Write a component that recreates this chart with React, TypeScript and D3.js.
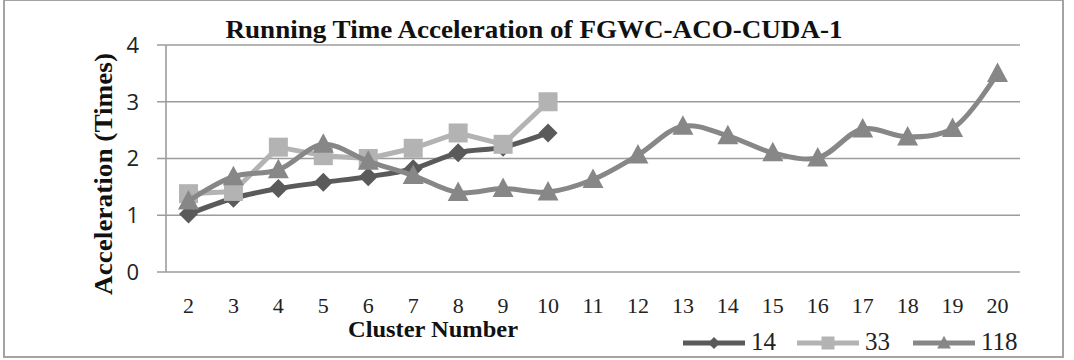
import React, { useRef, useEffect } from 'react';
import * as d3 from 'd3';

// chart values
const clusters = ['2', '3', '4', '5', '6', '7', '8', '9', '10', '11', '12', '13', '14', '15', '16', '17', '18', '19', '20'];
const yTicks = [0, 1, 2, 3, 4];
const accel14 = [1.02, 1.3, 1.47, 1.58, 1.68, 1.82, 2.1, 2.2, 2.45];
const accel33 = [1.38, 1.42, 2.2, 2.05, 2.0, 2.18, 2.45, 2.25, 3.0];
const accel118 = [1.25, 1.68, 1.8, 2.25, 1.95, 1.7, 1.4, 1.47, 1.41, 1.63, 2.06, 2.57, 2.4, 2.1, 2.01, 2.52, 2.38, 2.53, 3.5];
const seriesNames = ['14', '33', '118'];

const SERIF = '"Liberation Serif", "Times New Roman", serif';
const SANS = '"Open Sans", sans-serif';

const W = 1074;
const H = 360;

const markerPath = (kind, s) => {
  if (kind === 'diamond') return `M0,${-s}L${s},0L0,${s}L${-s},0Z`;
  if (kind === 'square') return `M${-s},${-s}H${s}V${s}H${-s}Z`;
  return `M0,${-s * 1.1}L${s * 1.05},${s * 0.85}H${-s * 1.05}Z`;
};

const AccelChart = () => {
  const svgRef = useRef(null);

  useEffect(() => {
    const svg = d3.select(svgRef.current);
    svg.selectAll('*').remove();

    const left = 166, right = 1020, top = 45, bottom = 272;

    const x = d3.scalePoint().domain(clusters).range([left, right]).padding(0.5);
    const y = d3.scaleLinear().domain([0, 4]).range([bottom, top]);

    // outer frame
    svg.append('rect')
      .attr('x', 4).attr('y', 0).attr('width', 1059).attr('height', 357)
      .attr('fill', 'white').attr('stroke', '#a3a3a3').attr('stroke-width', 2);

    // gridlines + y ticks
    const grid = svg.append('g');
    yTicks.forEach(t => {
      grid.append('line')
        .attr('x1', left - 9).attr('x2', right)
        .attr('y1', y(t)).attr('y2', y(t))
        .attr('stroke', '#9c9c9c').attr('stroke-width', 1.6);
      grid.append('text')
        .attr('x', 139).attr('y', y(t)).attr('dy', '0.36em')
        .attr('text-anchor', 'end')
        .style('font-family', SANS).style('font-size', '22px').attr('fill', '#222')
        .text(t);
    });
    grid.append('line')
      .attr('x1', left).attr('x2', left).attr('y1', top).attr('y2', bottom)
      .attr('stroke', '#9c9c9c').attr('stroke-width', 1.6);

    // x labels
    svg.append('g').selectAll('text').data(clusters).join('text')
      .attr('x', d => x(d)).attr('y', 313)
      .attr('text-anchor', 'middle')
      .style('font-family', SERIF).style('font-size', '22px').attr('fill', '#222')
      .text(d => d);

    const series = [
      { name: seriesNames[0], vals: accel14, color: '#5a5a5a', kind: 'diamond', size: 9.5, curve: d3.curveCatmullRom },
      { name: seriesNames[1], vals: accel33, color: '#b3b3b3', kind: 'square', size: 9.5, curve: d3.curveLinear },
      { name: seriesNames[2], vals: accel118, color: '#878787', kind: 'triangle', size: 10, curve: d3.curveCatmullRom },
    ];

    series.forEach(s => {
      const pts = s.vals.map((v, i) => [x(clusters[i]), y(v)]);
      const line = d3.line().curve(s.curve);
      svg.append('path')
        .attr('d', line(pts))
        .attr('fill', 'none').attr('stroke', s.color)
        .attr('stroke-width', 5).attr('stroke-linejoin', 'round');
      svg.append('g').selectAll('path').data(pts).join('path')
        .attr('transform', d => `translate(${d[0]},${d[1]})`)
        .attr('d', markerPath(s.kind, s.size))
        .attr('fill', s.color);
    });

    // titles
    svg.append('text')
      .attr('x', 534).attr('y', 38).attr('text-anchor', 'middle')
      .attr('textLength', 617).attr('lengthAdjust', 'spacingAndGlyphs')
      .style('font-family', SERIF).style('font-size', '26px').style('font-weight', 'bold').attr('fill', '#111')
      .text('Running Time Acceleration of FGWC-ACO-CUDA-1');

    svg.append('text')
      .attr('transform', 'translate(112,174) rotate(-90)')
      .attr('text-anchor', 'middle')
      .attr('textLength', 242).attr('lengthAdjust', 'spacingAndGlyphs')
      .style('font-family', SERIF).style('font-size', '26px').style('font-weight', 'bold').attr('fill', '#111')
      .text('Acceleration (Times)');

    svg.append('text')
      .attr('x', 433).attr('y', 337).attr('text-anchor', 'middle')
      .attr('textLength', 170).attr('lengthAdjust', 'spacingAndGlyphs')
      .style('font-family', SERIF).style('font-size', '23px').style('font-weight', 'bold').attr('fill', '#111')
      .text('Cluster Number');

    // legend
    const legendX = [683, 797, 913];
    series.forEach((s, i) => {
      const g = svg.append('g').attr('transform', `translate(${legendX[i]},343)`);
      g.append('line').attr('x1', 0).attr('x2', 62).attr('y1', 0).attr('y2', 0)
        .attr('stroke', s.color).attr('stroke-width', 5);
      g.append('path').attr('transform', 'translate(31,0)')
        .attr('d', markerPath(s.kind, s.kind === 'diamond' ? 6 : 6.5))
        .attr('fill', s.color);
      g.append('text').attr('x', 68).attr('y', 7)
        .style('font-family', SERIF).style('font-size', '25px').attr('fill', '#222')
        .text(s.name);
    });
  }, []);

  return <svg ref={svgRef} width={W} height={H} style={{ position: 'absolute', left: 0, top: 0 }}></svg>;
};

export default function App() {
  return (
    <div>
      <AccelChart />
    </div>
  );
}
